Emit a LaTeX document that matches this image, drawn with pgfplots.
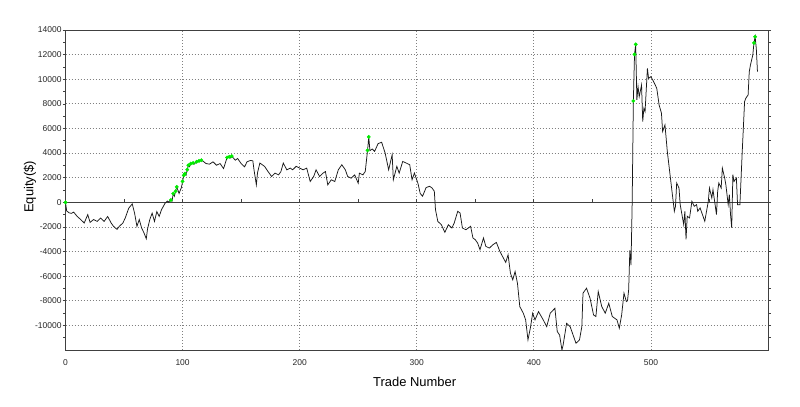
\documentclass[border=0pt]{standalone}
\usepackage{fontspec}
\setmainfont{Liberation Sans}
\usepackage{pgfplots}
\usepackage{pgfplotstable}
\pgfplotsset{compat=1.18}
\pgfplotstableread{
n eq
0 0
1 -700
3 -850
5 -900
7 -800
10 -1150
13 -1400
16 -1680
19 -1000
21 -1630
24 -1400
27 -1550
30 -1280
33 -1550
36 -1150
39 -1680
41 -1950
44 -2200
46 -1950
49 -1680
51 -1280
54 -480
57 -130
59 -880
61 -1950
63 -1400
65 -2080
67 -2480
69 -2960
70 -2200
72 -1400
74 -880
76 -1550
78 -750
80 -1150
82 -600
85 -80
87 100
88 20
90 190
91 100
92 700
93 500
94 900
95 1250
97 720
99 1200
100 1700
101 2190
102 2330
103 2200
104 2660
105 3010
106 2900
107 3150
109 3200
110 3100
112 3290
114 3370
116 3420
118 3300
120 3150
123 3100
126 3290
129 3010
132 3150
135 2740
138 3640
140 3700
141 3600
142 3750
145 3420
147 3560
150 3150
153 2880
155 3290
158 3400
160 3370
161 2640
163 1420
164 2400
166 3190
170 2920
173 2500
176 2100
179 2370
182 2230
184 2500
186 3190
189 2640
192 2780
194 2640
197 2920
200 2780
203 2640
206 2780
209 1690
212 2100
214 2640
217 2100
220 2370
222 2500
224 1420
227 1830
230 1690
233 2640
236 3050
239 2640
241 2100
244 1960
247 2230
250 1550
251 2370
254 2230
256 2500
258 4220
259 5310
260 4200
262 4330
264 4140
267 4770
270 4880
273 4000
276 2640
279 3870
280 1830
283 2920
285 2370
288 3320
291 3190
294 3050
296 1830
298 2370
301 1550
303 700
305 500
308 1200
311 1300
313 1170
315 900
316 -600
318 -1550
321 -1820
324 -2440
327 -1820
330 -2090
332 -1680
335 -730
337 -870
339 -2090
342 -2230
346 -1950
348 -2900
350 -3040
352 -3310
354 -3850
357 -2900
359 -3580
362 -3720
365 -3450
368 -3260
371 -3990
374 -4530
376 -4880
378 -4260
380 -5750
382 -6300
384 -5620
386 -6570
388 -8470
391 -9010
393 -9550
395 -11180
397 -10230
399 -9010
401 -9550
404 -8880
408 -9550
411 -10100
414 -9010
418 -8610
420 -10500
422 -10780
424 -12000
425 -11600
428 -9830
431 -10100
434 -10910
436 -11450
439 -11180
441 -10100
442 -7380
445 -6980
448 -7790
451 -9150
453 -9280
455 -7250
458 -8470
461 -9010
464 -8200
467 -9280
471 -9550
473 -10230
475 -9150
477 -7380
479 -8060
480 -8000
481 -7100
482 -3900
483 -5100
484 0
485 8240
486 12020
487 12830
488 8320
489 9400
490 8590
492 9530
493 6560
494 7640
495 7370
497 10880
498 10070
500 10210
503 9670
505 9260
507 7910
509 7240
510 5750
512 6290
514 4130
516 2510
518 890
520 -730
521 -320
522 1570
524 1160
525 -190
527 -1270
528 -1810
529 -730
530 -3020
531 -1130
533 -1270
535 80
537 -320
539 -190
540 -730
542 -460
544 -1000
546 -1540
547 -1000
549 80
550 1160
552 350
553 1030
554 350
556 -1000
557 890
558 1570
560 1160
561 2780
563 1970
564 1430
566 -190
567 620
568 -1000
569 -2080
570 2240
571 1700
573 1970
574 -190
576 -190
577 1970
578 4130
580 8180
581 8450
583 8720
584 10610
585 11150
587 11960
588 12950
589 13450
590 12500
591 10610
}\equity
\pgfplotstableread{
n eq
0 0
90 190
92 700
94 900
95 1250
100 1700
101 2190
102 2330
104 2660
105 3010
107 3150
109 3200
112 3290
114 3370
116 3420
138 3640
140 3700
142 3750
258 4220
259 5310
485 8240
486 12020
487 12830
588 12950
589 13450
}\highs
\begin{document}
\begin{tikzpicture}
\path[use as bounding box] (0bp,0bp) rectangle (800bp,407bp);
\begin{axis}[
  at={(65.5bp,57bp)}, anchor=south west,
  scale only axis, width=702.5bp, height=320bp,
  xmin=0, xmax=600, ymin=-12000, ymax=14000,
  scaled x ticks=false, scaled y ticks=false,
  axis line style={draw=black!75, line width=0.9bp},
  xtick={0,100,200,300,400,500},
  xticklabels={0,100,200,300,400,500},
  ytick={-10000,-8000,-6000,-4000,-2000,0,2000,4000,6000,8000,10000,12000,14000},
  yticklabels={-10000,-8000,-6000,-4000,-2000,0,2000,4000,6000,8000,10000,12000,14000},
  minor ytick={-11000,-9000,-7000,-5000,-3000,-1000,1000,3000,5000,7000,9000,11000,13000},
  tick align=outside, major tick length=3bp, minor tick length=2.5bp,
  x tick style={draw=none},
  y tick style={draw=black!75, line width=0.6bp},
  minor y tick style={draw=black!75, line width=0.6bp},
  xmajorgrids, ymajorgrids,
  major grid style={draw=gray, dash pattern=on 0.8bp off 2.2bp, line width=0.7bp},
  ticklabel style={font=\fontsize{8.5}{10}\selectfont, text=black!85},
  yticklabel style={inner sep=0.8bp},
  xticklabel style={yshift=-3bp},
  xlabel={Trade Number},
  xlabel style={at={(axis description cs:0.497,-0.101)}, anchor=center, font=\fontsize{13}{15}\selectfont},
  ylabel={Equity(\$)},
  ylabel style={at={(axis description cs:-0.0505,0.51)}, anchor=center, font=\fontsize{13}{15}\selectfont},
  clip=true,
]
\draw[black!75, line width=0.9bp] (axis cs:0,0) -- (axis cs:600,0);
\pgfplotsinvokeforeach{50,100,150,200,250,300,350,400,450,500,550}{
  \draw[black!75, line width=0.7bp] (axis cs:#1,-40) -- (axis cs:#1,240);
}
\addplot[black!90, line width=0.75bp, mark=none] table[x=n, y=eq] {\equity};
\addplot[only marks, mark=*, mark size=1.7bp, mark options={draw=none}, color={rgb,255:red,0;green,235;blue,0}] table[x=n, y=eq] {\highs};
\end{axis}
\end{tikzpicture}
\end{document}
